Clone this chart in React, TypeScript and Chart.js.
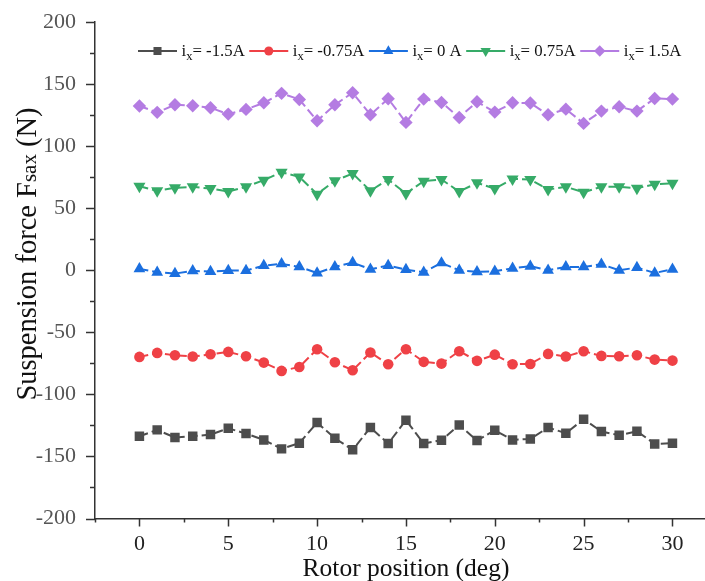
import React, { useEffect, useRef } from 'react';
import { Chart, registerables } from 'chart.js';

Chart.register(...registerables);

const rotorPositions = [0, 1, 2, 3, 4, 5, 6, 7, 8, 9, 10, 11, 12, 13, 14, 15, 16, 17, 18, 19, 20, 21, 22, 23, 24, 25, 26, 27, 28, 29, 30];

const forceNeg15 = [-133.7, -128.6, -134.8, -133.7, -132.4, -127.3, -131.6, -136.7, -143.9, -139.3, -122.7, -135.3, -144.7, -126.7, -139.6, -120.8, -139.6, -136.9, -124.6, -137.2, -128.9, -136.7, -135.9, -126.7, -131.3, -120.0, -129.9, -132.9, -129.7, -139.9, -139.3];
const forceNeg075 = [-69.8, -66.6, -68.5, -69.5, -67.7, -65.8, -69.3, -74.4, -81.1, -77.9, -63.6, -74.1, -80.6, -66.3, -75.7, -63.6, -73.8, -75.2, -65.2, -73.0, -68.0, -75.7, -75.5, -67.4, -69.5, -65.2, -69.0, -69.3, -68.5, -72.0, -72.8];
const force0 = [1.1, -1.6, -2.7, -0.5, -1.1, -0.3, -0.3, 3.8, 5.1, 2.7, -2.2, 2.7, 6.2, 0.8, 3.8, 0.5, -1.6, 5.9, 0.0, -1.3, -0.8, 1.6, 3.2, 0.0, 2.7, 2.7, 4.8, 0.0, 2.2, -2.2, 0.8];
const force075 = [67.7, 64.0, 66.4, 67.2, 65.8, 63.4, 67.2, 72.6, 79.0, 75.2, 61.3, 72.1, 77.9, 64.0, 73.1, 61.8, 71.8, 73.1, 63.4, 70.4, 65.8, 73.6, 73.1, 65.0, 67.2, 62.8, 67.2, 67.2, 66.1, 69.3, 70.1];
const force15 = [132.3, 127.2, 133.3, 132.5, 130.9, 125.8, 129.6, 134.9, 142.5, 137.6, 120.4, 133.3, 143.0, 125.3, 138.2, 119.1, 137.9, 135.2, 123.1, 135.8, 127.4, 134.9, 134.7, 125.3, 129.8, 118.3, 128.2, 131.7, 128.2, 138.4, 137.9];

const seriesLabelTails = ['= -1.5A', '= -0.75A', '= 0 A', '= 0.75A', '= 1.5A'];
const xTickValues = [0, 5, 10, 15, 20, 25, 30];
const yTickValues = [-200, -150, -100, -50, 0, 50, 100, 150, 200];

const SERIF = "'Liberation Serif', 'Times New Roman', serif";

type MarkerStyle = 'rect' | 'circle' | 'triangle' | 'rectRot';

const seriesStyles: { color: string; style: MarkerStyle; radius: number; rotation: number }[] = [
  { color: '#4d4d4d', style: 'rect', radius: 6.7, rotation: 0 },
  { color: '#ef4146', style: 'circle', radius: 5.3, rotation: 0 },
  { color: '#1b6fdf', style: 'triangle', radius: 6.8, rotation: 0 },
  { color: '#36ab68', style: 'triangle', radius: 7, rotation: 180 },
  { color: '#b47ce2', style: 'rectRot', radius: 6.7, rotation: 0 },
];

const seriesData = [forceNeg15, forceNeg075, force0, force075, force15];

function drawMarker(ctx: CanvasRenderingContext2D, style: MarkerStyle, x: number, y: number, r: number, color: string, rotation: number) {
  ctx.save();
  ctx.fillStyle = color;
  ctx.beginPath();
  if (style === 'rect') {
    const s = r * Math.SQRT1_2;
    ctx.rect(x - s, y - s, 2 * s, 2 * s);
  } else if (style === 'circle') {
    ctx.arc(x, y, r, 0, Math.PI * 2);
  } else if (style === 'triangle') {
    let rad = (rotation * Math.PI) / 180;
    ctx.moveTo(x + Math.sin(rad) * r, y - Math.cos(rad) * r);
    rad += (2 * Math.PI) / 3;
    ctx.lineTo(x + Math.sin(rad) * r, y - Math.cos(rad) * r);
    rad += (2 * Math.PI) / 3;
    ctx.lineTo(x + Math.sin(rad) * r, y - Math.cos(rad) * r);
    ctx.closePath();
  } else {
    ctx.moveTo(x - r, y);
    ctx.lineTo(x, y - r);
    ctx.lineTo(x + r, y);
    ctx.lineTo(x, y + r);
    ctx.closePath();
  }
  ctx.fill();
  ctx.restore();
}

const decorPlugin = {
  id: 'decor',
  afterDraw(chart: any) {
    const ctx: CanvasRenderingContext2D = chart.ctx;
    const xs = chart.scales.x;
    const ys = chart.scales.y;
    const area = chart.chartArea;
    ctx.save();
    // tick marks
    ctx.strokeStyle = '#333';
    ctx.lineWidth = 1.5;
    for (let v = -200; v <= 200; v += 25) {
      const py = Math.round(ys.getPixelForValue(v)) + 0.5;
      const len = v % 50 === 0 ? 9 : 5;
      ctx.beginPath();
      ctx.moveTo(area.left - len, py);
      ctx.lineTo(area.left, py);
      ctx.stroke();
    }
    for (let v = -2.5; v <= xs.max; v += 2.5) {
      const px = Math.round(xs.getPixelForValue(v)) + 0.5;
      const len = v % 5 === 0 ? 8 : 4;
      ctx.beginPath();
      ctx.moveTo(px, area.bottom);
      ctx.lineTo(px, area.bottom + len);
      ctx.stroke();
    }

    // legend
    let lx = 138;
    const ly = 51;
    const mainFont = `16.8px ${SERIF}`;
    const subFont = `12.5px ${SERIF}`;
    seriesStyles.forEach((st, i) => {
      ctx.strokeStyle = st.color;
      ctx.lineWidth = 2;
      ctx.setLineDash([]);
      ctx.beginPath();
      ctx.moveTo(lx, ly);
      ctx.lineTo(lx + 39, ly);
      ctx.stroke();
      drawMarker(ctx, st.style, lx + 19.5, ly, st.radius * 0.85, st.color, st.rotation);
      let tx = lx + 43.5;
      ctx.fillStyle = '#111';
      ctx.textBaseline = 'alphabetic';
      ctx.textAlign = 'left';
      ctx.font = mainFont;
      ctx.fillText('i', tx, 56);
      tx += ctx.measureText('i').width;
      ctx.font = subFont;
      ctx.fillText('x', tx, 60);
      tx += ctx.measureText('x').width;
      ctx.font = mainFont;
      ctx.fillText(seriesLabelTails[i], tx, 56);
      tx += ctx.measureText(seriesLabelTails[i]).width;
      lx = tx + 4.5;
    });

    // x title
    ctx.fillStyle = '#111';
    ctx.font = `25.5px ${SERIF}`;
    ctx.textAlign = 'center';
    ctx.textBaseline = 'alphabetic';
    ctx.fillText('Rotor position (deg)', 406, 576);

    // y title
    ctx.translate(36, 254);
    ctx.rotate(-Math.PI / 2);
    ctx.textAlign = 'left';
    const big = `28.5px ${SERIF}`;
    const small = `21px ${SERIF}`;
    const p1 = 'Suspension force F';
    const p2 = 'sax';
    const p3 = ' (N)';
    ctx.font = big;
    const w1 = ctx.measureText(p1).width;
    const w3 = ctx.measureText(p3).width;
    ctx.font = small;
    const w2 = ctx.measureText(p2).width;
    let sx = -(w1 + w2 + w3) / 2;
    ctx.font = big;
    ctx.fillText(p1, sx, 0);
    sx += w1;
    ctx.font = small;
    ctx.fillText(p2, sx, 0);
    sx += w2;
    ctx.font = big;
    ctx.fillText(p3, sx, 0);
    ctx.restore();
  },
};

export default function App() {
  const canvasRef = useRef<HTMLCanvasElement | null>(null);

  useEffect(() => {
    const canvas = canvasRef.current;
    if (!canvas) return;
    const labels = ['-1.5A', '-0.75A', '0 A', '0.75A', '1.5A'];
    const chart = new Chart(canvas, {
      type: 'line',
      data: {
        datasets: seriesData.map((vals, i) => {
          const st = seriesStyles[i];
          return {
            label: labels[i],
            data: rotorPositions.map((x, j) => ({ x, y: vals[j] })),
            borderColor: st.color,
            backgroundColor: st.color,
            pointBackgroundColor: st.color,
            pointBorderColor: st.color,
            pointBorderWidth: 0,
            pointStyle: st.style,
            pointRadius: st.radius,
            pointRotation: st.rotation,
            borderWidth: 2,
            borderDash: [9, 4],
            tension: 0,
            fill: false,
          };
        }),
      },
      options: {
        animation: false,
        responsive: false,
        devicePixelRatio: 1,
        layout: { autoPadding: false, padding: { top: 22, left: 0, right: 0, bottom: 0 } },
        plugins: {
          legend: { display: false },
          tooltip: { enabled: false },
        },
        scales: {
          x: {
            type: 'linear',
            min: -2.5,
            max: 32,
            afterBuildTicks: (s: any) => {
              s.ticks = xTickValues.map((v) => ({ value: v }));
            },
            afterFit: (s: any) => {
              s.height = 62.5;
              s.paddingLeft = 0;
              s.paddingRight = 0;
            },
            grid: { display: false, drawTicks: false },
            border: { display: true, color: '#333', width: 1.5 },
            ticks: {
              padding: 13,
              color: '#222',
              font: { family: SERIF, size: 22 },
              maxRotation: 0,
              autoSkip: false,
            },
          },
          y: {
            type: 'linear',
            min: -200,
            max: 200,
            afterBuildTicks: (s: any) => {
              s.ticks = yTickValues.map((v) => ({ value: v }));
            },
            afterFit: (s: any) => {
              s.width = 95;
              s.paddingTop = 0;
              s.paddingBottom = 0;
            },
            grid: { display: false, drawTicks: false },
            border: { display: true, color: '#333', width: 1.5 },
            ticks: {
              padding: 19,
              color: '#555',
              font: { family: SERIF, size: 22 },
              autoSkip: false,
            },
          },
        },
      },
      plugins: [decorPlugin],
    } as any);
    return () => chart.destroy();
  }, []);

  return (
    <div style={{ position: 'fixed', left: 0, top: 0, width: 705, height: 581, overflow: 'hidden', background: '#fff' }}>
      <canvas ref={canvasRef} width={708} height={581} style={{ width: 708, height: 581, display: 'block' }} />
    </div>
  );
}
